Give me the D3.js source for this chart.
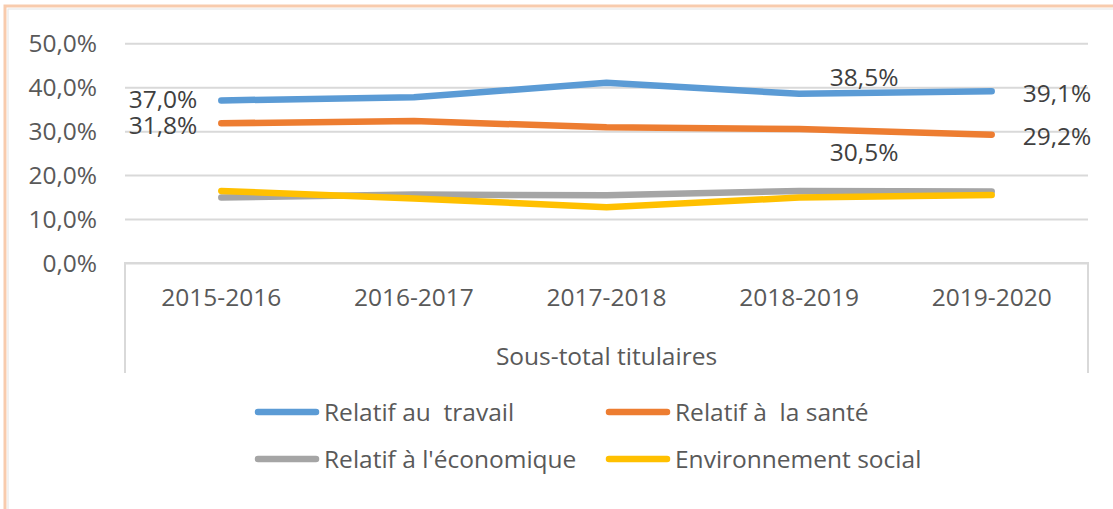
<!DOCTYPE html>
<html>
<head>
<meta charset="utf-8">
<script src="https://cdn.jsdelivr.net/npm/d3@7"></script>
<style>
  html, body { margin: 0; padding: 0; background: #fff; }
  svg { display: block; font-family: "Open Sans", "Noto Sans", sans-serif; }
</style>
</head>
<body>
<svg id="chart" width="1113" height="509"></svg>
<script>
// Years of the "Sous-total titulaires" group
const categories = ["2015-2016", "2016-2017", "2017-2018", "2018-2019", "2019-2020"];
const groupLabel = "Sous-total titulaires";

// Share of each motive (%)
const travail    = [37.0, 37.7, 41.0, 38.5, 39.1];
const sante      = [31.8, 32.3, 30.9, 30.5, 29.2];
const economique = [14.9, 15.6, 15.4, 16.4, 16.3];
const social     = [16.4, 14.7, 12.7, 14.9, 15.5];

const seriesNames = ["Relatif au  travail", "Relatif à  la santé", "Relatif à l'économique", "Environnement social"];
const yTicks = [0, 10, 20, 30, 40, 50];

// Which points carry a value label
const labelled = [
  { s: 0, i: 0, dx: -24, dy: -1, anchor: "end" },
  { s: 1, i: 0, dx: -24, dy: 2, anchor: "end" },
  { s: 0, i: 3, dx: 65, dy: -16, anchor: "middle" },
  { s: 1, i: 3, dx: 65, dy: 23, anchor: "middle" },
  { s: 0, i: 4, dx: 31, dy: 2, anchor: "start" },
  { s: 1, i: 4, dx: 31, dy: 2, anchor: "start" }
];

const colors = ["#5B9BD5", "#ED7D31", "#A5A5A5", "#FFC000"];
const textColor = "#595959";
const gridColor = "#D9D9D9";
const fontSize = 24.5;

const series = [travail, sante, economique, social].map((v, k) => ({ name: seriesNames[k], values: v, color: colors[k] }));
const fmt = v => d3.format(".1f")(v).replace(".", ",") + "%";

const svg = d3.select("#chart");

// Outer frame
svg.append("rect").attr("x", 5).attr("y", 6).attr("width", 1140).attr("height", 560)
  .attr("fill", "none").attr("stroke", "#F8CBAD").attr("stroke-width", 3);
svg.append("rect").attr("x", 8).attr("y", 9).attr("width", 1140).attr("height", 560)
  .attr("fill", "none").attr("stroke", "#E4E4E4").attr("stroke-width", 1);

const plotLeft = 125, plotRight = 1088, plotTop = 43.3, plotBottom = 263;
const x = d3.scaleBand().domain(categories).range([plotLeft, plotRight]).padding(0);
const y = d3.scaleLinear().domain([0, 50]).range([plotBottom, plotTop]);
const cx = c => x(c) + x.bandwidth() / 2;

// Gridlines and value axis
const yAxis = d3.axisLeft(y).tickValues(yTicks).tickSize(-(plotRight - plotLeft)).tickPadding(28)
  .tickFormat(d => fmt(d));
const yg = svg.append("g").attr("transform", `translate(${plotLeft},0)`).call(yAxis);
yg.select(".domain").remove();
yg.selectAll(".tick line").attr("stroke", gridColor).attr("stroke-width", 2);
yg.selectAll(".tick text").attr("fill", textColor).attr("font-size", fontSize)
  .attr("font-family", "'Open Sans', sans-serif").attr("dy", "0.35em").attr("x", -28);

// Category axis box
const axisBoxBottom = 373;
svg.append("path")
  .attr("d", `M${plotLeft},${axisBoxBottom}V${plotBottom}H${plotRight}V${axisBoxBottom}`)
  .attr("fill", "none").attr("stroke", gridColor).attr("stroke-width", 2);

const xAxis = d3.axisBottom(x).tickSize(0).tickPadding(0);
const xg = svg.append("g").attr("transform", `translate(0,${plotBottom})`).call(xAxis);
xg.select(".domain").remove();
xg.selectAll(".tick text").attr("fill", textColor).attr("font-size", fontSize)
  .attr("font-family", "'Open Sans', sans-serif").attr("y", 43).attr("dy", "0");

svg.append("text").attr("x", (plotLeft + plotRight) / 2).attr("y", 365)
  .attr("text-anchor", "middle").attr("fill", textColor).attr("font-size", fontSize)
  .text(groupLabel);

// Lines
const line = d3.line().x((d, i) => cx(categories[i])).y(d => y(d));
svg.append("g").selectAll("path").data(series).join("path")
  .attr("d", d => line(d.values))
  .attr("fill", "none").attr("stroke", d => d.color).attr("stroke-width", 6.5)
  .attr("stroke-linecap", "round").attr("stroke-linejoin", "round");

// Value labels
svg.append("g").selectAll("text").data(labelled).join("text")
  .attr("x", d => cx(categories[d.i]) + d.dx)
  .attr("y", d => y(series[d.s].values[d.i]) + d.dy)
  .attr("dy", "0.35em")
  .attr("text-anchor", d => d.anchor)
  .attr("fill", "#404040").attr("font-size", fontSize)
  .text(d => fmt(series[d.s].values[d.i]));

// Legend
const legendPos = [[255, 412], [606, 412], [255, 459], [606, 459]];
const lg = svg.append("g").selectAll("g").data(series).join("g")
  .attr("transform", (d, k) => `translate(${legendPos[k][0]},${legendPos[k][1]})`);
lg.append("line").attr("x1", 3).attr("x2", 61).attr("y1", 0).attr("y2", 0)
  .attr("stroke", d => d.color).attr("stroke-width", 6.5).attr("stroke-linecap", "round");
lg.append("text").attr("x", 69).attr("y", 0).attr("dy", "0.35em")
  .attr("fill", textColor).attr("font-size", fontSize)
  .style("white-space", "pre").attr("xml:space", "preserve")
  .text(d => d.name);
</script>
</body>
</html>
